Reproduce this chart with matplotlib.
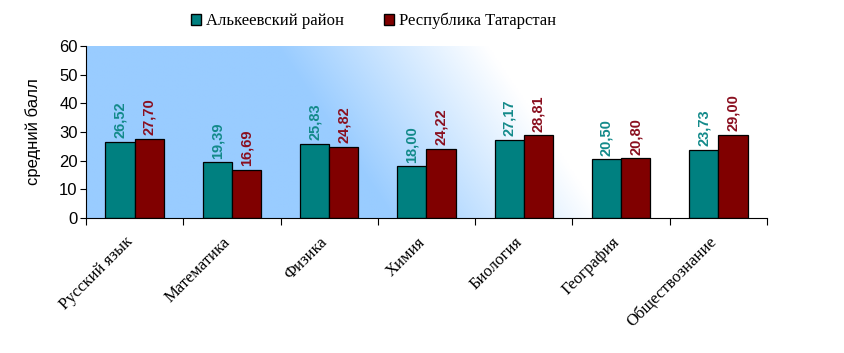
import numpy as np
import matplotlib
matplotlib.use('Agg')
import matplotlib.pyplot as plt
from matplotlib.patches import Patch

subjects = ['Русский язык', 'Математика', 'Физика', 'Химия', 'Биология', 'География', 'Обществознание']
district = [26.52, 19.39, 25.83, 18.00, 27.17, 20.50, 23.73]
republic = [27.70, 16.69, 24.82, 24.22, 28.81, 20.80, 29.00]
series_names = ['Алькеевский район', 'Республика Татарстан']

teal = '#008080'
maroon = '#800000'

fig = plt.figure(figsize=(8.45, 3.53), dpi=100)
ax = fig.add_axes([86 / 845, 1 - 218 / 353, (767 - 86) / 845, (218 - 46) / 353])

# градиентный фон (голубой слева -> белый справа, полоса наклонена)
nx, ny = 400, 120
xf = np.linspace(0, 1, nx)[None, :]
yf = np.linspace(1, 0, ny)[:, None]
t = np.clip((xf - 0.45 + 0.17 * yf) / 0.31, 0, 1)
c0 = np.array([153, 204, 255]) / 255
grad = c0[None, None, :] * (1 - t[..., None]) + 1.0 * t[..., None]
ax.imshow(grad, extent=[0, 7, 0, 60], aspect='auto', zorder=0, interpolation='bilinear')

x = np.arange(len(subjects)) + 0.5
w = 0.3
ax.bar(x - w / 2, district, w, color=teal, edgecolor='black', linewidth=0.9, zorder=2)
ax.bar(x + w / 2, republic, w, color=maroon, edgecolor='black', linewidth=0.9, zorder=2)

for xi, v in zip(x - w / 2, district):
    ax.text(xi, v + 1.3, f'{v:.2f}'.replace('.', ','), rotation=90, ha='center', va='bottom',
            color='#138a8a', fontsize=10.5, fontweight='bold', family='Liberation Sans')
for xi, v in zip(x + w / 2, republic):
    ax.text(xi, v + 1.3, f'{v:.2f}'.replace('.', ','), rotation=90, ha='center', va='bottom',
            color='#8a0f1f', fontsize=10.5, fontweight='bold', family='Liberation Sans')

ax.set_xlim(0, 7)
ax.set_ylim(0, 60)
ax.set_yticks(range(0, 61, 10))
ax.set_xticks(range(0, 8))
ax.set_xticklabels([])
ax.tick_params(axis='x', which='major', length=5, direction='out')
ax.tick_params(axis='y', length=4, direction='out', labelsize=12, pad=2)
for lab in ax.get_yticklabels():
    lab.set_family('Liberation Sans')

# подписи категорий под углом 45°
for xi, s in zip(x, subjects):
    ax.annotate(s, xy=(xi, 0), xycoords=('data', 'axes fraction'),
                xytext=(-7, -11.5), textcoords='offset points',
                rotation=45, ha='right', va='top', rotation_mode='anchor',
                family='Liberation Serif', fontsize=12)

ax.spines['top'].set_visible(False)
ax.spines['right'].set_visible(False)
ax.set_ylabel('средний балл', family='Liberation Sans', fontsize=12)
ax.yaxis.set_label_coords(-0.066, 0.5)

handles = [Patch(facecolor=teal, edgecolor='black', label=series_names[0]),
           Patch(facecolor=maroon, edgecolor='black', label=series_names[1])]
fig.legend(handles=handles, loc='center', bbox_to_anchor=(374 / 845, 1 - 21 / 353), ncol=2,
           frameon=False, prop={'family': 'Liberation Serif', 'size': 12},
           handlelength=0.6, handleheight=0.6, handletextpad=0.3, columnspacing=2.4)

fig.savefig('out.png', dpi=100)
